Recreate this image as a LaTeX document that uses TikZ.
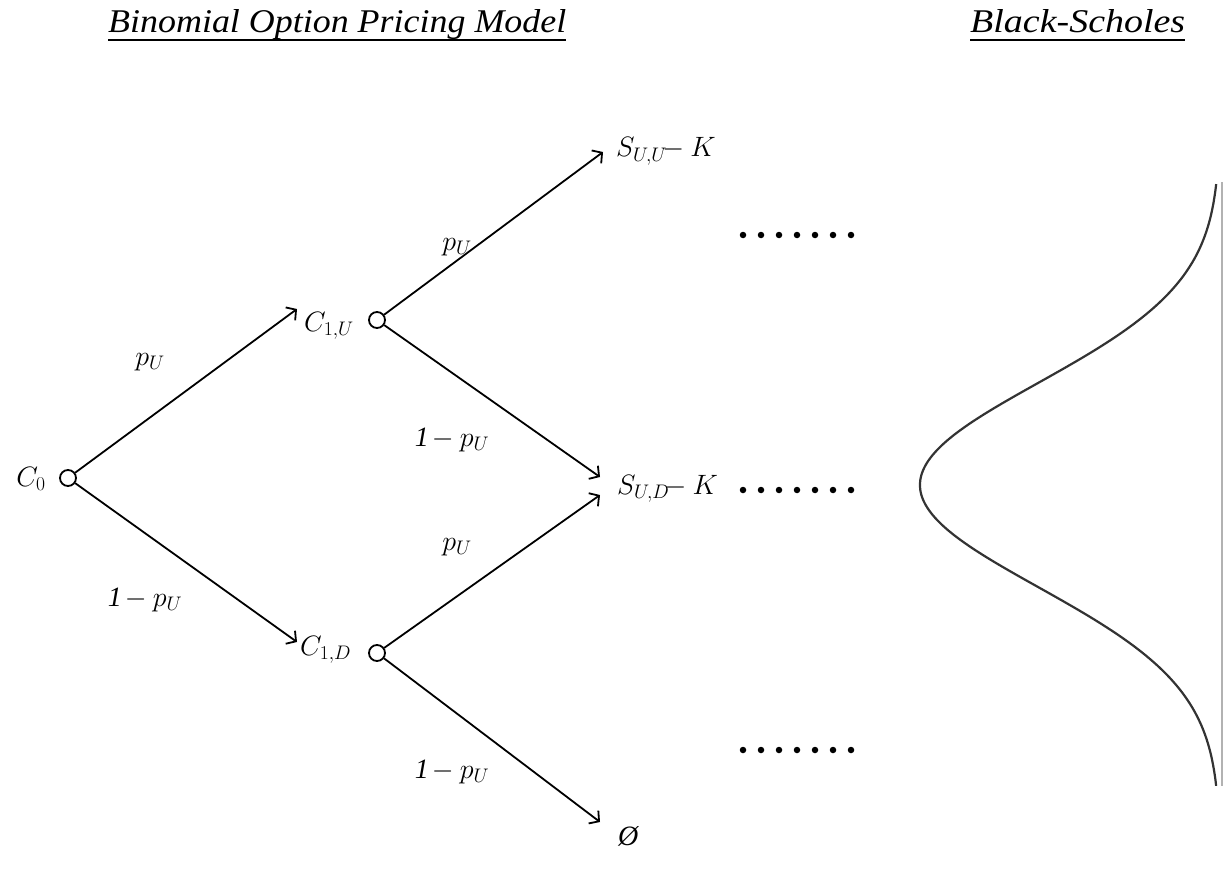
\RequirePackage{fix-cm}
\documentclass[tikz,border=0pt]{standalone}
\usepackage{fontspec}
\setmainfont{Liberation Serif}
\usepackage{graphicx}
\usetikzlibrary{arrows.meta}
\tikzset{
  state/.style={circle, draw, line width=1.8pt, minimum size=16pt, inner sep=0pt, fill=white},
  edge/.style={line width=1.8pt, -{Straight Barb[length=7pt,width=16pt,line width=1.8pt]}},
  lbl/.style={font=\fontsize{28}{33}\selectfont, inner sep=0pt},
  ttl/.style={inner sep=0pt, anchor=base west},
  uline/.style={line width=2.2pt},
  bigdot/.style={circle, fill=black, inner sep=0pt, minimum size=6.5pt},
}
\begin{document}
\begin{tikzpicture}[x=1pt,y=-1pt]
\useasboundingbox (0,0) rectangle (1230,869);
% titles
\node[ttl] (t1) at (108,33) {\resizebox{458pt}{23pt}{\itshape Binomial Option Pricing Model}};
\node[ttl] (t2) at (970,33) {\resizebox{215pt}{23pt}{\itshape Black-Scholes}};
\draw[uline] (t1.base west) ++(0,7) -- ++(458,0);
\draw[uline] (t2.base west) ++(0,7) -- ++(215,0);
% tree nodes
\node[state] (c0) at (68,478) {};
\node[state] (c1u) at (377,320) {};
\node[state] (c1d) at (377,653) {};
\node[lbl] (lc0) at (31,479) {$C_0$};
\node[lbl, anchor=base west] (lc1u) at (304,331) {$C_{1,U}$};
\node[lbl, anchor=base west] (lc1d) at (300,655) {$C_{1,D}$};
\node[lbl, anchor=base west] (suu) at (616,157) {$S_{U,U}\mkern-7mu-K$};
\node[lbl, anchor=base west] (sud) at (617,494) {$S_{U,D}\mkern-7mu-K$};
\node[lbl, anchor=base west] (sdd) at (618,845) {$\mathit{\O}$};
\coordinate (e1) at (297,309);
\coordinate (e2) at (297,642);
\coordinate (e3) at (603,152);
\coordinate (e4) at (600,477);
\coordinate (e5) at (600,495);
\coordinate (e6) at (600,822);
\draw[edge] (c0) -- (e1);
\draw[edge] (c0) -- (e2);
\draw[edge] (c1u) -- (e3);
\draw[edge] (c1u) -- (e4);
\draw[edge] (c1d) -- (e5);
\draw[edge] (c1d) -- (e6);
% edge labels
\node[lbl] (p1) at (150,362) {$p_U$};
\node[lbl] (p2) at (145,600) {$\mathit{1}\mkern-2mu-p_U$};
\node[lbl] (p3) at (457,247) {$p_U$};
\node[lbl] (p4) at (452,440) {$\mathit{1}\mkern-2mu-p_U$};
\node[lbl] (p5) at (457,547) {$p_U$};
\node[lbl] (p6) at (452,772) {$\mathit{1}\mkern-2mu-p_U$};
% dots
\foreach \yy/\nm in {235/a,490/b,750/c}{
  \foreach \i in {0,...,6}{
    \node[bigdot] (d\nm\i) at (743+18*\i,\yy) {};
  }
}
% Black-Scholes curve
\draw[gray!60, line width=1.8pt] (1222,182) -- (1222,786);
\draw[black!80, line width=2.2pt, smooth] plot[domain=-2.95:2.95, samples=121, variable=\u]
  ({1220-300*exp(-(\u*\u)/2)}, {485+102*\u});
\end{tikzpicture}
\end{document}
